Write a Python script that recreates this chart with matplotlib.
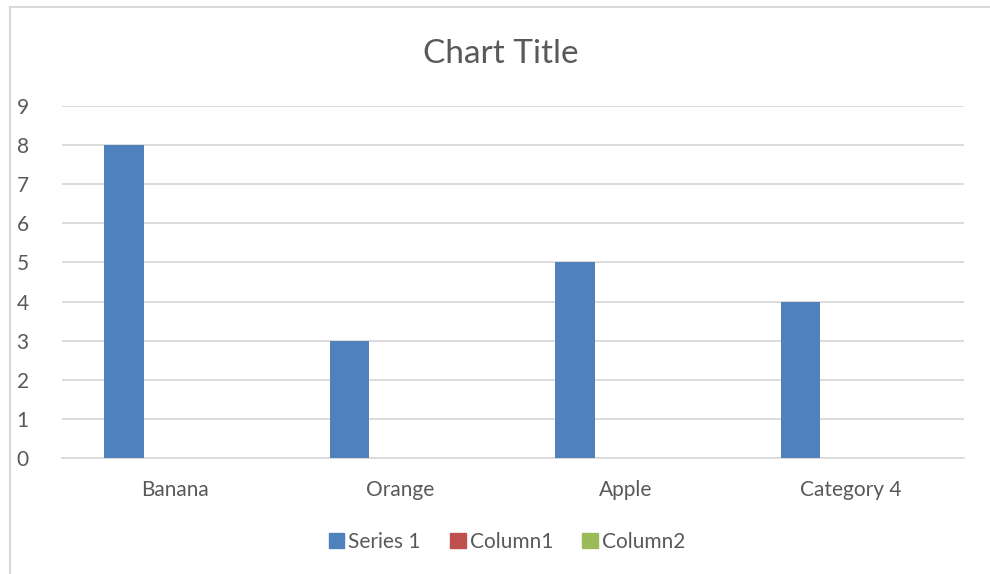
import numpy as np
import matplotlib
matplotlib.use("Agg")
import matplotlib.pyplot as plt
from matplotlib.lines import Line2D

categories = ["Banana", "Orange", "Apple", "Category 4"]
series_names = ["Series 1", "Column1", "Column2"]
series1 = [8, 3, 5, 4]
column1 = [np.nan, np.nan, np.nan, np.nan]
column2 = [np.nan, np.nan, np.nan, np.nan]
colors = ["#4F81BD", "#C0504D", "#9BBB59"]
yticks = list(range(0, 10))

plt.rcParams['font.family'] = ['Lato', 'DejaVu Sans']
text_color = "#595959"
grid_color = "#D9D9D9"

fig = plt.figure(figsize=(9.9, 5.74), dpi=100)
ax = fig.add_axes([62/990, 1-458/574, (964-62)/990, (458-106)/574])

x = np.arange(len(categories))
width = 0.177
offsets = [-0.225, 0.0, 0.225]
for vals, name, col, off in zip([series1, column1, column2], series_names, colors, offsets):
    ax.bar(x + off, vals, width, color=col, label=name, zorder=3)

ax.set_xlim(-0.5, len(categories) - 0.5)
ax.set_ylim(0, 9)
ax.set_yticks(yticks)
ax.set_xticks(x)
ax.set_xticklabels(categories)
ax.grid(axis='y', color=grid_color, linewidth=1.3, zorder=0)
ax.set_axisbelow(True)
for s in ['top', 'right', 'left']:
    ax.spines[s].set_visible(False)
ax.spines['bottom'].set_color(grid_color)
ax.spines['bottom'].set_linewidth(1.3)
ax.tick_params(axis='both', length=0, colors=text_color, labelsize=15)
ax.tick_params(axis='x', pad=16)
ax.tick_params(axis='y', pad=24)

fig.text(501/990, 1-54/574, "Chart Title", ha='center', va='center', fontsize=24, color=text_color)

handles = [plt.Rectangle((0, 0), 1, 1, color=c) for c in colors]
leg = fig.legend(handles, series_names, loc='center', bbox_to_anchor=(507/990, 1-542/574), ncol=3,
                 frameon=False, fontsize=15, handlelength=0.75, handleheight=0.75, handletextpad=0.2,
                 columnspacing=1.4, labelcolor=text_color)

# chart area border (cropped)
fig.add_artist(Line2D([10/990, 10/990], [0, 1-7/574], color=grid_color, linewidth=1.5, transform=fig.transFigure))
fig.add_artist(Line2D([10/990, 1], [1-7/574, 1-7/574], color=grid_color, linewidth=1.5, transform=fig.transFigure))

fig.savefig("out.png", dpi=100)
